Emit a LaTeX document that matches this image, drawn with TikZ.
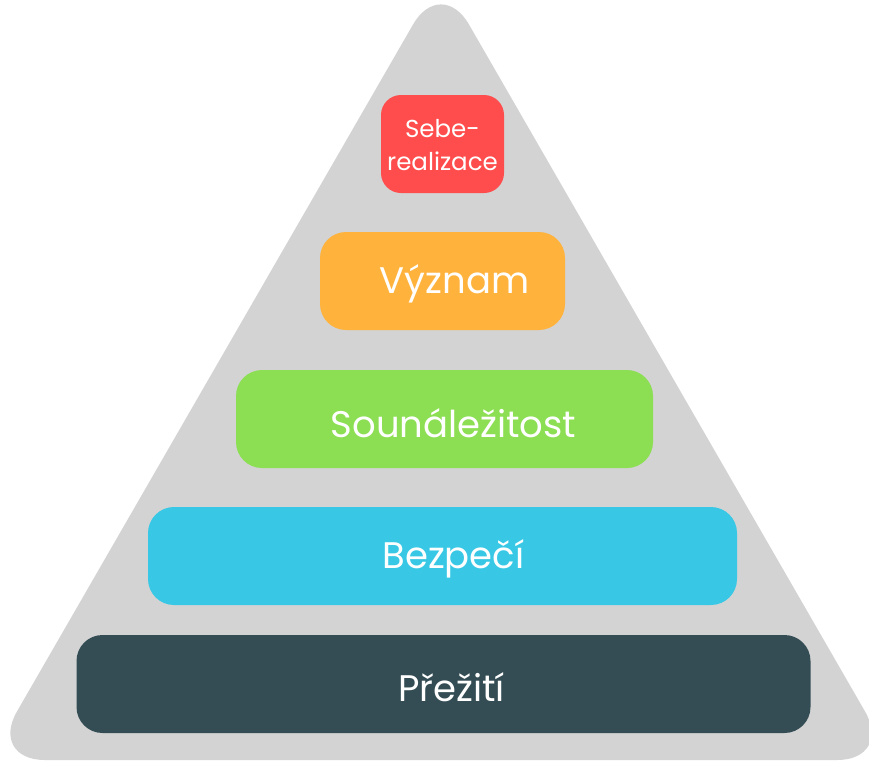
\documentclass[tikz,border=0pt]{standalone}
\usepackage{fontspec}
\setmainfont{Poppins}
\usepackage{xcolor}
\usepackage{tikz}
\usetikzlibrary{positioning,calc}
\definecolor{pgray}{RGB}{211,211,211}
\definecolor{pred}{RGB}{255,76,76}
\definecolor{porange}{RGB}{255,178,60}
\definecolor{pgreen}{RGB}{140,222,83}
\definecolor{pcyan}{RGB}{56,200,229}
\definecolor{pdark}{RGB}{52,76,84}
\tikzset{
  level/.style ={rectangle, rounded corners=26pt, draw=none, minimum height=98pt},
  lvltext/.style={text=white, align=center, font=\fontsize{37}{42}\selectfont}
}
\begin{document}
\begin{tikzpicture}[x=1pt, y=-1pt]
\useasboundingbox (0,0) rectangle (869,763);
\clip (0,0) rectangle (869,763);
% grey pyramid behind the levels
\fill[pgray, rounded corners=56pt] (441,760) -- (893,760) -- (441,-24) -- (-11,760) -- cycle;
% levels, bottom up
\node[level, fill=pdark,   minimum width=734pt] (surv) at (443.5,684) {};
\node[level, fill=pcyan,   minimum width=589pt] (safe) at (442.5,556) {};
\node[level, fill=pgreen,  minimum width=417pt] (belong) at (444.5,419) {};
\node[level, fill=porange, minimum width=245pt] (mean) at (442.5,281) {};
\node[level, fill=pred,    minimum width=123pt, rounded corners=20pt] (self) at (442.5,144) {};
% labels
\node[lvltext] (survt) at ([xshift=8pt,yshift=-3pt]surv.center) {Přežití};
\node[lvltext] (safet) at ([xshift=11pt,yshift=-3pt]safe.center) {Bezpečí};
\node[lvltext] (belongt) at ([xshift=9pt,yshift=-4pt]belong.center) {Sounáležitost};
\node[lvltext] (meant) at ([xshift=12pt,yshift=-3pt]mean.center) {Význam};
\node[lvltext, font=\fontsize{24.5}{33}\selectfont] (selft) at ([yshift=-1pt]self.center) {Sebe-\\realizace};
\end{tikzpicture}
\end{document}
